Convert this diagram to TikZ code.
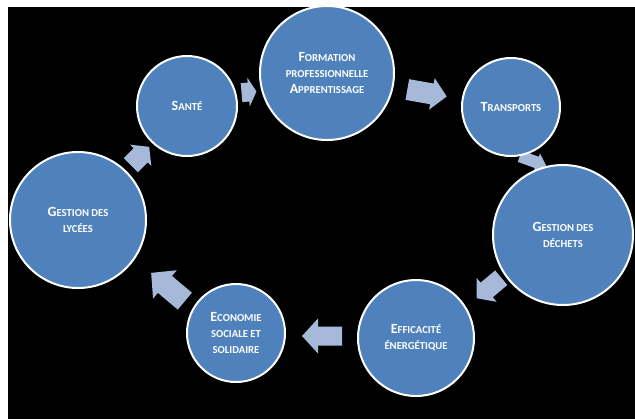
\documentclass[tikz,border=0pt]{standalone}
\usepackage{fontspec}
\setmainfont{Carlito}
\definecolor{cblue}{HTML}{4F81BD}
\definecolor{afill}{HTML}{A7B9D9}
\newcommand\Fc[1]{{\fontsize{10.5}{11.25}\selectfont #1}}
\newcommand\Rc[1]{{\fontsize{8}{11.25}\selectfont #1}}
% x, y, angle, length, shaft width, head width, head length
\newcommand\barrow[7]{%
\begin{scope}[shift={(#1,#2)},rotate=#3]
\fill[afill] (-#4/2,-#5/2) -- (#4/2-#7,-#5/2) -- (#4/2-#7,-#6/2) -- (#4/2,0)
  -- (#4/2-#7,#6/2) -- (#4/2-#7,#5/2) -- (-#4/2,#5/2) -- cycle;
\end{scope}}
\tikzset{
  circ/.style={circle, fill=cblue, draw=white, line width=1.5pt, inner sep=0pt,
    text=white, font=\bfseries, align=center}
}
\begin{document}
\begin{tikzpicture}[x=0.75pt,y=-0.75pt]
\useasboundingbox (0,0) rectangle (635,419);
\fill[white] (0,0) rectangle (635,419);
\fill[black] (8,7) rectangle (635,419);
% arrows
\barrow{140}{156}{45}{26}{20}{30}{12}
\barrow{249}{92}{5}{15}{19}{29}{8}
\barrow{427}{93}{-10}{40}{21}{32}{15}
\barrow{533}{161}{-20}{28}{12}{19}{10}
\barrow{489}{288}{-140}{32}{19}{31}{13}
\barrow{322}{336}{180}{40}{19}{35}{16}
\barrow{168}{287}{140}{44}{22}{37}{18}
% circles
\begin{scope}
\clip (8,7) rectangle (635,419);
\node[circ, minimum size=75pt] (sante) at (187,106) {\Fc{S}\Rc{ANTÉ}};
\node[circ, minimum size=100.5pt] (formation) at (327,73) {\Fc{F}\Rc{ORMATION}\\\Rc{PROFESSIONNELLE}\\\Fc{A}\Rc{PPRENTISSAGE}};
\node[circ, minimum size=73.5pt] (transports) at (511,107) {\Fc{T}\Rc{RANSPORTS}};
\node[circ, minimum size=105pt] (dechets) at (563,235) {\Fc{G}\Rc{ESTION DES}\\\Rc{DÉCHETS}};
\node[circ, minimum size=87pt] (efficacite) at (416,338) {\Fc{E}\Rc{FFICACITÉ}\\\Rc{ÉNERGÉTIQUE}};
\node[circ, minimum size=73.5pt] (economie) at (236,333) {\Fc{E}\Rc{CONOMIE}\\\Rc{SOCIALE ET}\\\Rc{SOLIDAIRE}};
\node[circ, minimum size=102pt] (lycees) at (78,220) {\Fc{G}\Rc{ESTION DES}\\\Rc{LYCÉES}};
\end{scope}
\end{tikzpicture}
\end{document}
